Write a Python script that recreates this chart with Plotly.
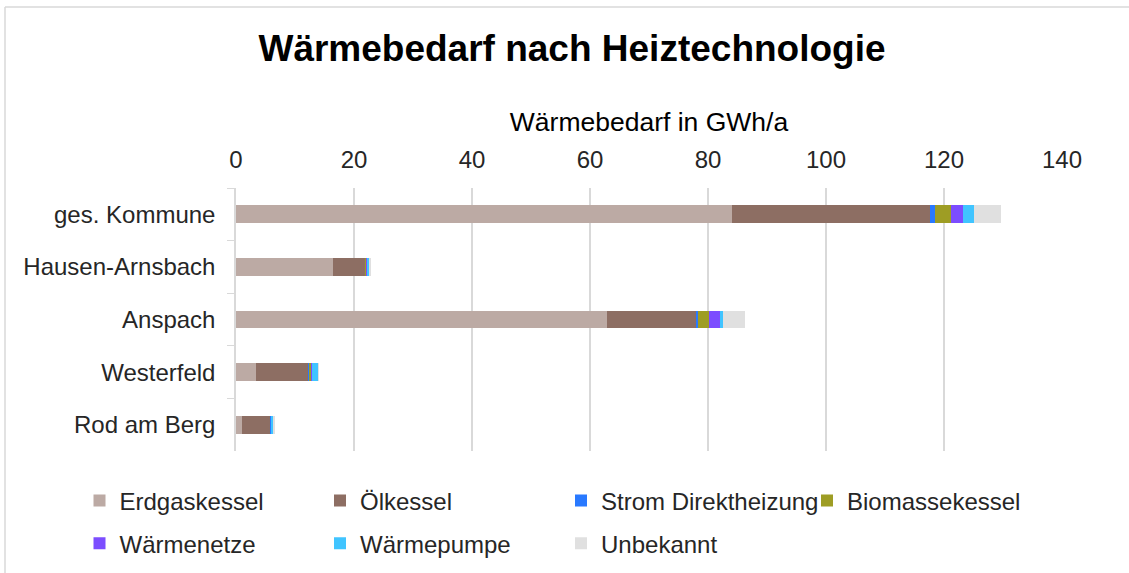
import plotly.graph_objects as go

categories = ["ges. Kommune", "Hausen-Arnsbach", "Anspach", "Westerfeld", "Rod am Berg"]
erdgaskessel = [84.0, 16.4, 62.9, 3.4, 1.1]
oelkessel = [33.6, 5.5, 15.0, 8.9, 4.8]
strom_direkt = [0.9, 0.1, 0.4, 0.15, 0.05]
biomassekessel = [2.7, 0.2, 1.8, 0.3, 0.1]
waermenetze = [2.0, 0.05, 1.9, 0.05, 0.02]
waermepumpe = [1.8, 0.3, 0.6, 1.1, 0.3]
unbekannt = [4.7, 0.4, 3.7, 0.15, 0.1]

series = [
    ("Erdgaskessel", erdgaskessel, "#BCAAA4", "legend"),
    ("Ölkessel", oelkessel, "#8D6E63", "legend2"),
    ("Strom Direktheizung", strom_direkt, "#2979FF", "legend3"),
    ("Biomassekessel", biomassekessel, "#9E9D24", "legend4"),
    ("Wärmenetze", waermenetze, "#7C4DFF", "legend"),
    ("Wärmepumpe", waermepumpe, "#40C4FF", "legend2"),
    ("Unbekannt", unbekannt, "#E0E0E0", "legend3"),
]
tick_vals = [0, 20, 40, 60, 80, 100, 120, 140]

fig = go.Figure()
for name, vals, col, leg in series:
    fig.add_trace(go.Bar(y=categories, x=vals, name=name, orientation="h",
                         legend=leg, legendgroup=name,
                         marker=dict(color=col, line=dict(width=0))))

W, H = 1129, 573
L, R, T, B = 236, 67, 188, 122
pw, ph = W - L - R, H - T - B

def px(x):
    return (x - L) / pw

def py(y):
    return 1 - (y - T) / ph

FONT = "Liberation Sans, Arial, sans-serif"
leg_common = dict(orientation="v", yanchor="top", y=py(478.5), xanchor="left",
                  font=dict(size=24, color="#262626", family=FONT), itemwidth=30,
                  tracegroupgap=8.5, bgcolor="rgba(0,0,0,0)", borderwidth=0)
legend_left = [79.5, 320, 561, 807]

fig.update_layout(
    width=W, height=H,
    barmode="stack", bargap=0.658,
    margin=dict(l=L, r=R, t=T, b=B, autoexpand=False),
    paper_bgcolor="white", plot_bgcolor="white",
    font=dict(family=FONT, size=24, color="#000000"),
    title=dict(text="<b>Wärmebedarf nach Heiztechnologie</b>", x=572 / W, xanchor="center",
               y=1 - 48 / H, yanchor="middle", font=dict(size=37, color="#000000")),
    xaxis=dict(side="top", range=[0, 140], tickvals=tick_vals, showgrid=True,
               gridcolor="#D9D9D9", gridwidth=1.5, zeroline=False, showline=False,
               automargin=False, ticklabelstandoff=14, tickfont=dict(size=24, color="#262626"),
               title=dict(text="Wärmebedarf in GWh/a", font=dict(size=26.5, color="#000000"), standoff=6)),
    yaxis=dict(autorange="reversed", showline=True, linecolor="#D9D9D9", linewidth=1.5,
               ticks="outside", tickson="boundaries", ticklen=7, tickcolor="#D9D9D9",
               automargin=False, ticklabelstandoff=14, tickfont=dict(size=24, color="#262626"),
               showgrid=False),
    legend=dict(x=px(legend_left[0]), **leg_common),
    legend2=dict(x=px(legend_left[1]), **leg_common),
    legend3=dict(x=px(legend_left[2]), **leg_common),
    legend4=dict(x=px(legend_left[3]), **leg_common),
    shapes=[
        dict(type="line", xref="paper", yref="paper", x0=px(5), x1=px(1135), y0=py(7), y1=py(7),
             line=dict(color="#D9D9D9", width=1.5)),
        dict(type="line", xref="paper", yref="paper", x0=px(5), x1=px(5), y0=py(7), y1=py(580),
             line=dict(color="#D9D9D9", width=1.5)),
    ],
)
fig.write_html("out.html", config={"displayModeBar": False},
               post_script="document.body.style.margin='0px';")
